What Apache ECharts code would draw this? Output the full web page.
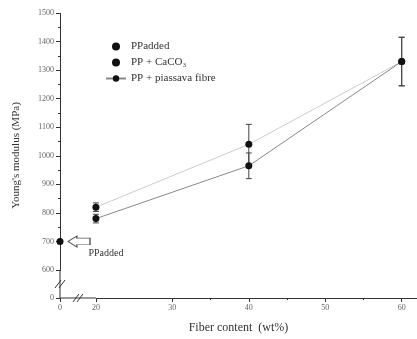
<!DOCTYPE html>
<html><head><meta charset="utf-8">
<script src="https://cdn.jsdelivr.net/npm/echarts@6/dist/echarts.min.js"></script>
<style>html,body{margin:0;padding:0;background:#fff}#c{width:417px;height:339px}</style>
</head><body><div id="c"></div>
<script>
var fiber = [20, 40, 60];
var caco3 = [820, 1040, 1330];
var caco3Err = [15, 70, 85];
var piassava = [780, 965, 1330];
var piassavaErr = [15, 45, 85];
var ppAdded = [[0, 700]];
var yTicks = {min: 0, max: 1500, interval: 100};
var xTicks = {min: 0, max: 62, interval: 10};
var yBreak = {start: 0, end: 600};
var xBreak = {start: 0, end: 20};

var font = 'Liberation Serif';
function pairs(xs, ys){ return xs.map(function(x,i){return [x, ys[i]];}); }
function errData(xs, ys, es){ return xs.map(function(x,i){return [x, ys[i]-es[i], ys[i]+es[i]];}); }
function errRender(params, api){
  var x = api.value(0), lo = api.value(1), hi = api.value(2);
  var p1 = api.coord([x, lo]), p2 = api.coord([x, hi]);
  var s = {stroke: '#444', lineWidth: 1};
  return {type: 'group', children: [
    {type: 'line', shape: {x1: p1[0], y1: p1[1], x2: p2[0], y2: p2[1]}, style: s},
    {type: 'line', shape: {x1: p1[0]-3, y1: p1[1], x2: p1[0]+3, y2: p1[1]}, style: s},
    {type: 'line', shape: {x1: p2[0]-3, y1: p2[1], x2: p2[0]+3, y2: p2[1]}, style: s}
  ]};
}
// data row: [x, y, x1, y1, x2, y2] -> break mark at (x,y), axis segment from (x1,y1) to (x2,y2)
function breakMarkRender(params, api){
  var p = api.coord([api.value(0), api.value(1)]);
  var a = api.coord([api.value(2), api.value(3)]);
  var b = api.coord([api.value(4), api.value(5)]);
  var s = {stroke: '#333', lineWidth: 1};
  var ch = [{type: 'line', shape: {x1: a[0], y1: a[1], x2: b[0], y2: b[1]}, style: s}];
  [-2, 2].forEach(function(d){
    ch.push({type: 'line', shape: {x1: p[0]+d-3, y1: p[1]+4, x2: p[0]+d+3, y2: p[1]-4}, style: s});
  });
  return {type: 'group', children: ch};
}
var chart = echarts.init(document.getElementById('c'));
chart.setOption({
  animation: false,
  textStyle: {fontFamily: font},
  grid: {left: 60, right: 0, top: 13, bottom: 41, outerBoundsMode: 'none'},
  legend: {
    left: 100, top: 36, orient: 'vertical', itemWidth: 20, itemHeight: 8, itemGap: 5,
    textStyle: {fontFamily: font, fontSize: 11, color: '#333'},
    data: [{name: 'PPadded', icon: 'circle'}, {name: 'PP + CaCO₃', icon: 'circle'}, {name: 'PP + piassava fibre'}]
  },
  xAxis: {
    type: 'value', min: xTicks.min, max: xTicks.max, interval: xTicks.interval,
    name: 'Fiber content  (wt%)', nameLocation: 'middle', nameGap: 24,
    nameTextStyle: {fontFamily: font, fontSize: 12, color: '#333'},
    breaks: [{start: xBreak.start, end: xBreak.end, gap: 4.7}],
    breakArea: {show: false, expandOnClick: false},
    axisLine: {show: true, lineStyle: {color: '#333'}},
    axisTick: {show: true, inside: false, length: 4, lineStyle: {color: '#333'}},
    minorTick: {show: true, splitNumber: 2, length: 2, lineStyle: {color: '#333'}},
    axisLabel: {fontFamily: font, fontSize: 8, color: '#666', margin: 6, showMaxLabel: false,
      formatter: function(v){ return String(v); }},
    splitLine: {show: false}
  },
  yAxis: {
    type: 'value', min: yTicks.min, max: yTicks.max, interval: yTicks.interval,
    name: "Young's modulus (MPa)", nameLocation: 'middle', nameGap: 38,
    nameTextStyle: {fontFamily: font, fontSize: 11, color: '#333'},
    breaks: [{start: yBreak.start, end: yBreak.end, gap: 98}],
    breakArea: {show: false, expandOnClick: false},
    axisLine: {show: true, lineStyle: {color: '#333'}},
    axisTick: {show: true, inside: false, length: 4, lineStyle: {color: '#333'}},
    minorTick: {show: true, splitNumber: 2, length: 2, lineStyle: {color: '#333'}},
    axisLabel: {fontFamily: font, fontSize: 8, color: '#666', margin: 6,
      formatter: function(v){ return String(v); }},
    splitLine: {show: false}
  },
  series: [
    {name: 'PPadded', type: 'scatter', data: ppAdded, symbol: 'circle', symbolSize: 7, itemStyle: {color: '#111', opacity: 1}, z: 5,
     markPoint: {
       data: [{coord: ppAdded[0]}],
       symbol: 'path://M0,5 L8,0 L8,2 L20,2 L20,8 L8,8 L8,10 Z',
       symbolSize: [22, 11], symbolOffset: [19, 0],
       itemStyle: {color: '#fff', borderColor: '#555', borderWidth: 1},
       label: {show: true, formatter: 'PPadded', position: 'inside', offset: [27, 12], fontFamily: font, fontSize: 10, color: '#333'}
     }},
    {name: 'PP + CaCO₃', type: 'line', data: pairs(fiber, caco3), symbol: 'circle', symbolSize: 7,
     itemStyle: {color: '#111'}, lineStyle: {color: '#ccc', width: 1}, z: 3},
    {name: 'PP + piassava fibre', type: 'line', data: pairs(fiber, piassava), symbol: 'circle', symbolSize: 7,
     itemStyle: {color: '#111'}, lineStyle: {color: '#888', width: 1}, z: 3},
    {type: 'custom', data: errData(fiber, caco3, caco3Err), renderItem: errRender, z: 2},
    {type: 'custom', data: errData(fiber, piassava, piassavaErr), renderItem: errRender, z: 2},
    {type: 'custom', data: [
        [0, (yBreak.start + yBreak.end) / 2, 0, yBreak.start, 0, yBreak.end],
        [(xBreak.start + xBreak.end) / 2, 0, xBreak.start, 0, xBreak.end, 0]
      ],
     renderItem: breakMarkRender, clip: false, z: 6}
  ]
});
</script></body></html>
